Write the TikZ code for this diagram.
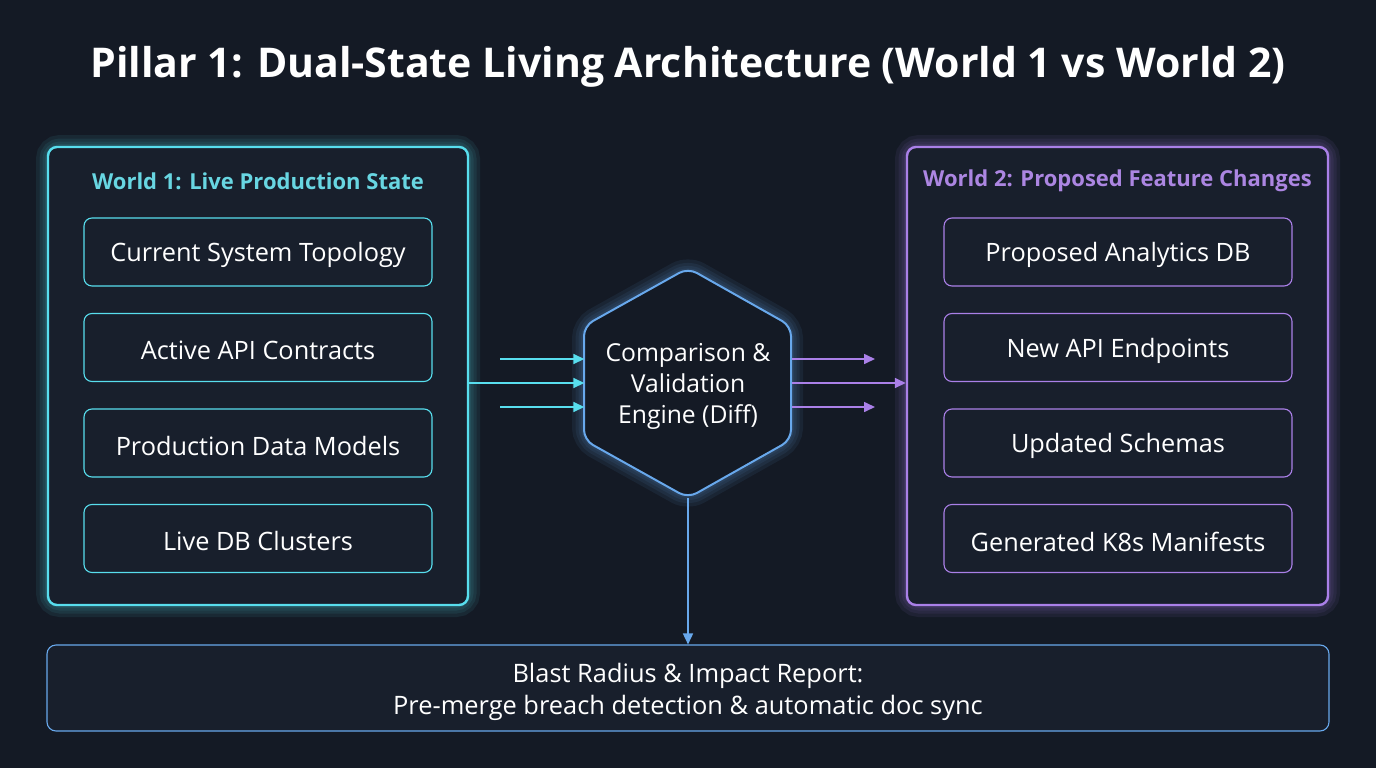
\documentclass[tikz,border=0pt]{standalone}
\usepackage{fontspec}
\setmainfont{Open Sans}
\usetikzlibrary{arrows.meta}
\definecolor{bg}{RGB}{20,26,37}
\definecolor{panel}{RGB}{24,31,44}
\definecolor{cy}{RGB}{88,222,238}
\definecolor{cyt}{RGB}{104,214,226}
\definecolor{pu}{RGB}{170,128,232}
\definecolor{put}{RGB}{172,134,226}
\definecolor{bl}{RGB}{104,168,236}
\tikzset{
  world/.style={draw=#1, line width=2.4pt, rounded corners=9pt, fill=panel},
  item/.style={draw=#1, line width=1.1pt, rounded corners=8pt, minimum width=348pt, minimum height=68pt, text=white, font=\fontsize{25.3}{30}\selectfont},
  itxt/.style={text=white, font=\fontsize{25.3}{30}\selectfont},
  wtitle/.style={text=#1, font=\bfseries\fontsize{22}{26}\selectfont},
  glow/.style 2 args={draw=#1, line width=#2, opacity=0.08, rounded corners=12pt},
  arr/.style={draw=#1, line width=1.6pt, -{Triangle[length=11pt,width=10pt]}},
}
\begin{document}
\begin{tikzpicture}[x=1pt,y=-1pt]
\fill[bg] (0,0) rectangle (1376,768);
\useasboundingbox (0,0) rectangle (1376,768);
% title
\node[text=white, font=\bfseries\fontsize{41}{46}\selectfont] (title) at (688,67) {Pillar 1: Dual-State Living Architecture (World 1 vs World 2)};
% glows
\foreach \w in {24,17,11,6}{
  \draw[glow={cy}{\w pt}] (48,147) rectangle (468,605);
  \draw[glow={pu}{\w pt}] (907,147) rectangle (1328,605);
  \draw[glow={bl}{\w pt}] (688,268) -- (791,326) -- (791,440) -- (688,498) -- (584,440) -- (584,326) -- cycle;
}
% world boxes
\node[world=cy, minimum width=420pt, minimum height=458pt] (w1) at (258,376) {};
\node[world=pu, minimum width=421pt, minimum height=458pt] (w2) at (1117.5,376) {};
\node[wtitle=cyt] (w1t) at (258,181) {World 1: Live Production State};
\node[wtitle=put] (w2t) at (1117.5,181) {World 2: Proposed Feature Changes};
% items
\node[item=cy] (a1) at (258,252) {};
\node[item=cy] (a2) at (258,347.5) {};
\node[item=cy] (a3) at (258,443) {};
\node[item=cy] (a4) at (258,538.5) {};
\node[item=pu] (b1) at (1118,252) {};
\node[item=pu] (b2) at (1118,347.5) {};
\node[item=pu] (b3) at (1118,443) {};
\node[item=pu] (b4) at (1118,538.5) {};
\node[itxt, yshift=-3pt] at (a1) {Current System Topology};
\node[itxt, yshift=-3pt] at (a2) {Active API Contracts};
\node[itxt, yshift=-3pt] at (a3) {Production Data Models};
\node[itxt, yshift=-3pt] at (a4) {Live DB Clusters};
\node[itxt, yshift=-3pt] at (b1) {Proposed Analytics DB};
\node[itxt, yshift=-3pt] at (b2) {New API Endpoints};
\node[itxt, yshift=-3pt] at (b3) {Updated Schemas};
\node[itxt, yshift=-3pt] at (b4) {Generated K8s Manifests};
% hexagon
\filldraw[fill=bg, draw=bl, line width=2pt, rounded corners=10pt] (688,268) -- (791,326) -- (791,440) -- (688,498) -- (584,440) -- (584,326) -- cycle;
\node[minimum width=207pt, minimum height=230pt, inner sep=0pt] (hex) at (688,383) {};
\node[text=white, align=center, font=\fontsize{24.7}{31}\selectfont] (hext) at (688,386) {Comparison \&\\Validation\\Engine (Diff)};
% bottom
\node[draw=bl, line width=1.1pt, rounded corners=9pt, fill=panel, minimum width=1282pt, minimum height=86pt] (rep) at (688,688) {};
\node[text=white, align=center, font=\fontsize{25.4}{32}\selectfont] (rept) at (688,692) {Blast Radius \& Impact Report:\\Pre-merge breach detection \& automatic doc sync};
% arrows
\coordinate (l1) at (500,359);
\coordinate (l3) at (500,407);
\coordinate (r1) at (875,359);
\coordinate (r3) at (875,407);
\draw[arr=cy] (l1) -- (l1 -| hex.west);
\draw[arr=cy] (w1.east |- hex) -- (hex.west);
\draw[arr=cy] (l3) -- (l3 -| hex.west);
\draw[arr=pu] (hex.east |- r1) -- (r1);
\draw[arr=pu] (hex.east) -- (w2.west |- hex);
\draw[arr=pu] (hex.east |- r3) -- (r3);
\draw[arr=bl] (hex.south) -- (rep.north);
\end{tikzpicture}
\end{document}
